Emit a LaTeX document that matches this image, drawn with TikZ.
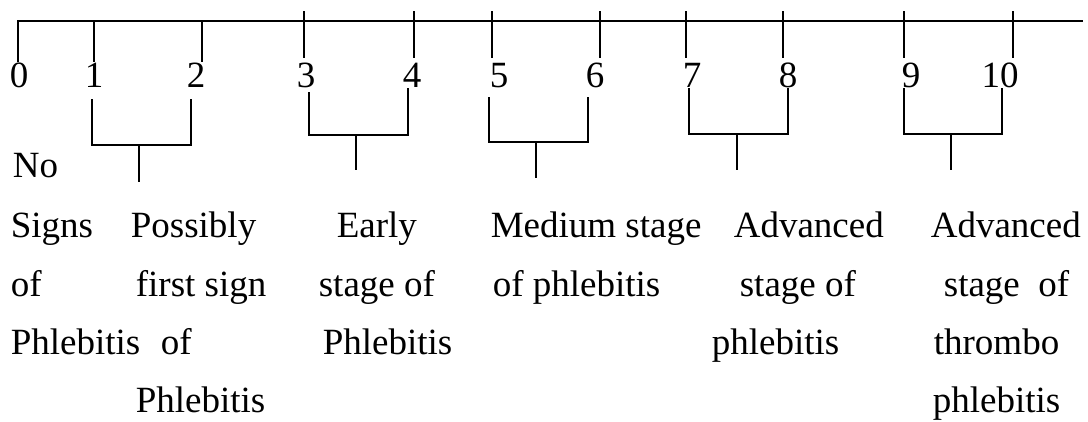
\documentclass[tikz,border=0pt]{standalone}
\usepackage{fontspec}
\setmainfont{Liberation Serif}
\begin{document}
\begin{tikzpicture}[x=1pt,y=-1pt,line width=1.7pt,
  lbl/.style={inner sep=0pt,anchor=base west,font=\fontsize{37}{41}\selectfont},
  num/.style={inner sep=0pt,anchor=base,font=\fontsize{37}{41}\selectfont},
  brk/.style={line width=1.7pt}]
\useasboundingbox (0,0) rectangle (1088,421);
% axis
\coordinate (axL) at (18,21);
\coordinate (axR) at (1083,21);
\draw (18,62) -- (axL) -- (axR);
\draw (94,21) -- (94,62);
\draw (202,21) -- (202,62);
\foreach \x in {304,414,492,600,686,783,904,1013}
  \draw (\x,11) -- (\x,58);
% digits
\node[num] (n0) at (19,87) {0};
\node[num] (n1) at (94,87) {1};
\node[num] (n2) at (196,87) {2};
\node[num] (n3) at (306,87) {3};
\node[num] (n4) at (412,87) {4};
\node[num] (n5) at (499,87) {5};
\node[num] (n6) at (595,87) {6};
\node[num] (n7) at (692,87) {7};
\node[num] (n8) at (788,87) {8};
\node[num] (n9) at (911,87) {9};
\node[num] (n10) at (1000,87) {10};
% brackets
\draw[brk] (92,99) -- (92,145) -- (191,145) -- (191,99);
\draw[brk] (139,145) -- (139,182);
\draw[brk] (309,92) -- (309,135) -- (408,135) -- (408,88);
\draw[brk] (356,135) -- (356,170);
\draw[brk] (489,97) -- (489,142) -- (588,142) -- (588,97);
\draw[brk] (536,142) -- (536,178);
\draw[brk] (689,88) -- (689,134) -- (788,134) -- (788,88);
\draw[brk] (737,134) -- (737,170);
\draw[brk] (904,88) -- (904,134) -- (1002,134) -- (1002,88);
\draw[brk] (951,134) -- (951,170);
% column 1
\node[lbl] (a0) at (12,177) {No};
\node[lbl] (a1) at (10,237) {Signs};
\node[lbl] (a2) at (10,296) {of};
\node[lbl] (a3) at (10,354) {Phlebitis};
% column 2
\node[lbl] (b1) at (130,237) {Possibly};
\node[lbl] (b2) at (135,296) {first sign};
\node[lbl] (b3) at (160,354) {of};
\node[lbl] (b4) at (135,412) {Phlebitis};
% column 3
\node[lbl] (c1) at (336,237) {Early};
\node[lbl] (c2) at (318,296) {stage of};
\node[lbl] (c3) at (322,354) {Phlebitis};
% column 4
\node[lbl] (d1) at (490,237) {Medium stage};
\node[lbl] (d2) at (492,296) {of phlebitis};
% column 5
\node[lbl] (e1) at (733,237) {Advanced};
\node[lbl] (e2) at (739,296) {stage of};
\node[lbl] (e3) at (711,354) {phlebitis};
% column 6
\node[lbl] (f1) at (930,237) {Advanced};
\node[lbl] (f2) at (943,296) {stage\ \ of};
\node[lbl] (f3) at (933,354) {thrombo};
\node[lbl] (f4) at (932,412) {phlebitis};
\end{tikzpicture}
\end{document}
